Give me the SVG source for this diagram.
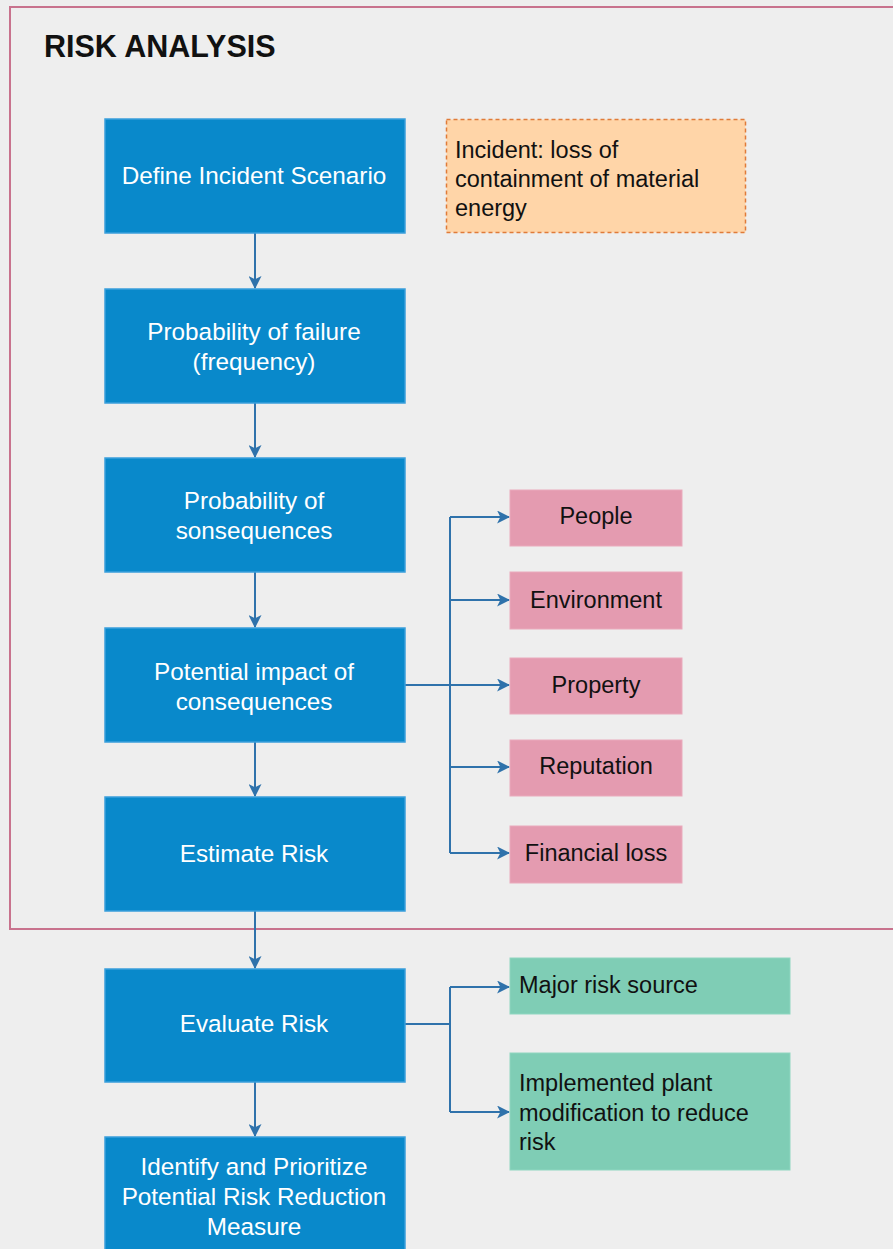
<svg xmlns="http://www.w3.org/2000/svg" width="893" height="1249" viewBox="0 0 893 1249">
<defs>
<style>
.bg{fill:#eeeeee}
.frame{fill:none;stroke:#c8728d;stroke-width:2}
.blue{fill:#0989cb;stroke:#3a9fdb;stroke-width:1.5}
.pink{fill:#e49bb0;stroke:#eaaabc;stroke-width:1}
.green{fill:#7fcdb5;stroke:#8fd6c0;stroke-width:1}
.note{fill:#ffd5a8;stroke:#e07b39;stroke-width:1.5;stroke-dasharray:4 3}
.t{font-family:"Liberation Sans",Arial,sans-serif;font-size:23.5px}
.w{fill:#ffffff;text-anchor:middle;font-size:24.3px}
.k{fill:#111111}
.c{text-anchor:middle}
.title{font-family:"Liberation Sans",Arial,sans-serif;font-size:30.5px;font-weight:bold;fill:#111111}
.ln{fill:none;stroke:#2f72ab;stroke-width:2}
</style>
<marker id="ah" viewBox="0 0 12 12" refX="11" refY="6" markerWidth="13" markerHeight="13" markerUnits="userSpaceOnUse" orient="auto">
<path d="M0,0 L12,6 L0,12 L3,6 Z" fill="#2f72ab"/>
</marker>
</defs>
<rect class="bg" x="0" y="0" width="893" height="1249"/>
<path class="frame" d="M893,7 H10 V929 H893"/>
<text class="title" x="44" y="57">RISK ANALYSIS</text>

<g id="connectors">
<line class="ln" x1="255" y1="233" x2="255" y2="288" marker-end="url(#ah)"/>
<line class="ln" x1="255" y1="403" x2="255" y2="457" marker-end="url(#ah)"/>
<line class="ln" x1="255" y1="572" x2="255" y2="627" marker-end="url(#ah)"/>
<line class="ln" x1="255" y1="742" x2="255" y2="796" marker-end="url(#ah)"/>
<line class="ln" x1="255" y1="911" x2="255" y2="968" marker-end="url(#ah)"/>
<line class="ln" x1="255" y1="1082" x2="255" y2="1136" marker-end="url(#ah)"/>
<path class="ln" d="M405,685 H450"/>
<path class="ln" d="M450,517 V853"/>
<line class="ln" x1="450" y1="517" x2="509" y2="517" marker-end="url(#ah)"/>
<line class="ln" x1="450" y1="600" x2="509" y2="600" marker-end="url(#ah)"/>
<line class="ln" x1="450" y1="685" x2="509" y2="685" marker-end="url(#ah)"/>
<line class="ln" x1="450" y1="767" x2="509" y2="767" marker-end="url(#ah)"/>
<line class="ln" x1="450" y1="853" x2="509" y2="853" marker-end="url(#ah)"/>
<path class="ln" d="M405,1024 H450"/>
<path class="ln" d="M450,987 V1112"/>
<line class="ln" x1="450" y1="987" x2="509" y2="987" marker-end="url(#ah)"/>
<line class="ln" x1="450" y1="1112" x2="509" y2="1112" marker-end="url(#ah)"/>
</g>

<g id="define">
<rect class="blue" x="105" y="119" width="300" height="114"/>
<text class="t w" x="254" y="184">Define Incident Scenario</text>
</g>
<g id="incident">
<rect class="note" x="446.5" y="119.5" width="299" height="113"/>
<text class="t k" x="455" y="158">Incident: loss of</text>
<text class="t k" x="455" y="187">containment of material</text>
<text class="t k" x="455" y="216">energy</text>
</g>
<g id="prob-failure">
<rect class="blue" x="105" y="289" width="300" height="114"/>
<text class="t w" x="254" y="340">Probability of failure</text>
<text class="t w" x="254" y="370">(frequency)</text>
</g>
<g id="prob-consequences">
<rect class="blue" x="105" y="458" width="300" height="114"/>
<text class="t w" x="254" y="509">Probability of</text>
<text class="t w" x="254" y="539">sonsequences</text>
</g>
<g id="impact">
<rect class="blue" x="105" y="628" width="300" height="114"/>
<text class="t w" x="254" y="680">Potential impact of</text>
<text class="t w" x="254" y="710">consequences</text>
</g>
<g id="estimate">
<rect class="blue" x="105" y="797" width="300" height="114"/>
<text class="t w" x="254" y="862">Estimate Risk</text>
</g>
<g id="evaluate">
<rect class="blue" x="105" y="969" width="300" height="113"/>
<text class="t w" x="254" y="1032">Evaluate Risk</text>
</g>
<g id="identify">
<rect class="blue" x="105" y="1137" width="300" height="120"/>
<text class="t w" x="254" y="1175">Identify and Prioritize</text>
<text class="t w" x="254" y="1205">Potential Risk Reduction</text>
<text class="t w" x="254" y="1235">Measure</text>
</g>
<g id="people">
<rect class="pink" x="510" y="490" width="172" height="56"/>
<text class="t k c" x="596" y="524">People</text>
</g>
<g id="environment">
<rect class="pink" x="510" y="572" width="172" height="57"/>
<text class="t k c" x="596" y="608">Environment</text>
</g>
<g id="property">
<rect class="pink" x="510" y="658" width="172" height="56"/>
<text class="t k c" x="596" y="693">Property</text>
</g>
<g id="reputation">
<rect class="pink" x="510" y="740" width="172" height="56"/>
<text class="t k c" x="596" y="774">Reputation</text>
</g>
<g id="financial">
<rect class="pink" x="510" y="826" width="172" height="57"/>
<text class="t k c" x="596" y="861">Financial loss</text>
</g>
<g id="major">
<rect class="green" x="510" y="958" width="280" height="56"/>
<text class="t k" x="519" y="993">Major risk source</text>
</g>
<g id="implemented">
<rect class="green" x="510" y="1053" width="280" height="117"/>
<text class="t k" x="519" y="1091">Implemented plant</text>
<text class="t k" x="519" y="1121">modification to reduce</text>
<text class="t k" x="519" y="1150">risk</text>
</g>
</svg>
